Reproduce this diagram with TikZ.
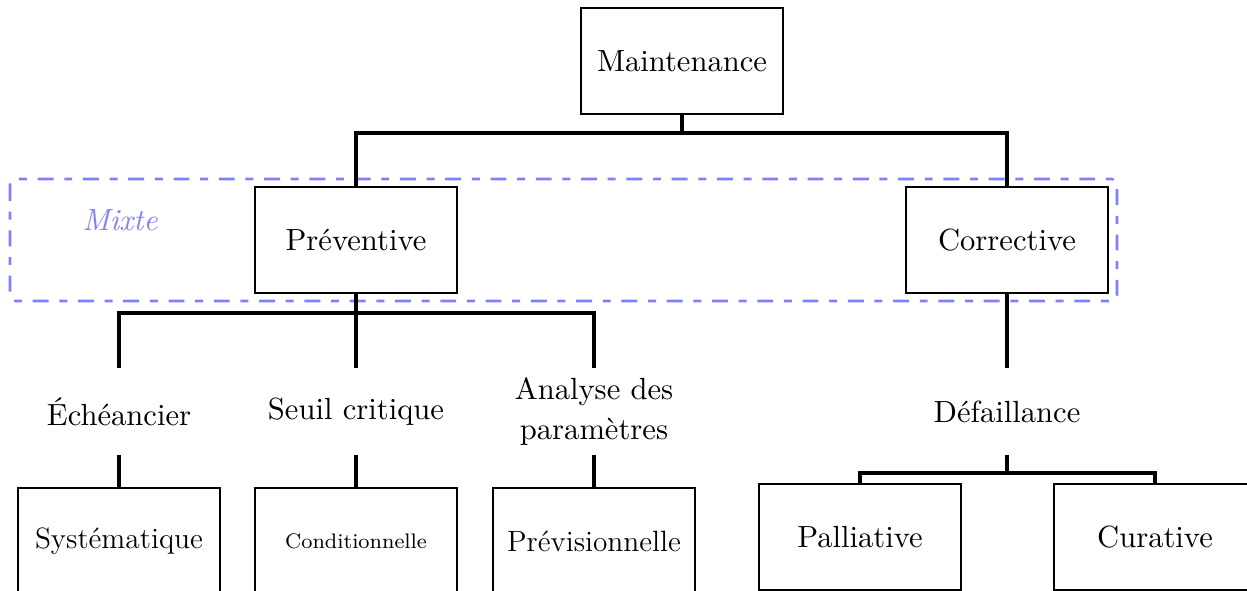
\documentclass[tikz,border=0pt]{standalone}
\usepackage{graphicx}
\usetikzlibrary{calc}
% larger optical size, shrunk back to the running text height
\newcommand{\tightlabel}[1]{\scalebox{0.8}{\fontsize{12}{14.5}\selectfont #1}}
\begin{document}
\begin{tikzpicture}[
  x=0.3268pt, y=-0.3268pt,
  box/.style={draw, line width=0.4pt, minimum width=66pt, minimum height=34.6pt, inner sep=0pt},
  lbl/.style={minimum width=60pt, minimum height=27.8pt, inner sep=0pt, align=center},
  conn/.style={line width=1.3pt},
  group/.style={draw=blue!50, line width=0.85pt, rounded corners=2pt,
    dash pattern=on 5.2pt off 3.5pt on 2.6pt off 3.5pt},
]
\useasboundingbox (0,0) rectangle (1247,590);

% level 0 and 1
\node[box] (M) at (682,61) {Maintenance};
\node[box] (P) at (356,240) {Préventive};
\node[box] (C) at (1007,240) {Corrective};

% grouping of the two maintenance kinds
\draw[group] (10,179) rectangle (1117,301);
\node[text=blue!50, font=\itshape] (mx) at (120,220) {Mixte};

% triggers
\node[lbl] (L1) at (119,411.5) {Échéancier};
\node[lbl] (L2) at (356,411.5) {Seuil critique};
\node[lbl, font=\fontsize{10}{13.1}\selectfont] (L3) at (594,411.5) {Analyse des\\paramètres};
\node[lbl] (L4) at (1007,411.5) {Défaillance};

% leaves
\node[box] (S1) at (119,541) {\tightlabel{Systématique}};
\node[box, font=\fontsize{8}{9.5}\selectfont] (S2) at (356,541) {\scalebox{0.86}{Conditionnelle}};
\node[box] (S3) at (594,541) {\tightlabel{Prévisionnelle}};
\node[box] (S4) at (860,537) {Palliative};
\node[box] (S5) at (1155,537) {Curative};

% bus junctions
\coordinate (b1) at (682,133);
\coordinate (b2) at (356,313);
\coordinate (b3) at (1007,473);

\draw[conn] (M.south) -- (b1) -| (P.north);
\draw[conn] (b1) -| (C.north);

\draw[conn] (P.south) -- (b2) -| (L1.north);
\draw[conn] (b2) -- (L2.north);
\draw[conn] (b2) -| (L3.north);
\draw[conn] (C.south) -- (L4.north);

\draw[conn] (L1.south) -- (S1.north);
\draw[conn] (L2.south) -- (S2.north);
\draw[conn] (L3.south) -- (S3.north);

\draw[conn] (L4.south) -- (b3) -| (S4.north);
\draw[conn] (b3) -| (S5.north);
\end{tikzpicture}
\end{document}
